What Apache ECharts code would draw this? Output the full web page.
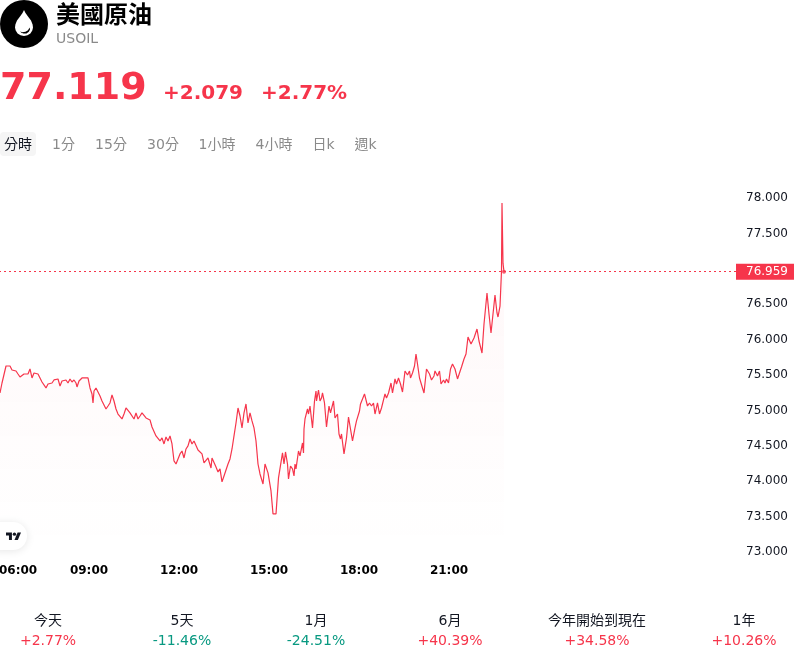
<!DOCTYPE html>
<html><head><meta charset="utf-8">
<style>html,body{margin:0;padding:0;background:#fff}#c{width:800px;height:660px}</style>
<script src="https://cdn.jsdelivr.net/npm/echarts@6/dist/echarts.min.js"></script>
</head><body><div id="c"></div>
<script>
const FONT = '"DejaVu Sans","Noto Sans CJK TC",sans-serif';
const RED = '#F6354B', GREEN = '#089981', INK = '#131722', GREY = '#8A8A8A';

const minutes = [2,6,10,14,18,22,26,30,34,38,42,46,50,54,58,62,66,70,74,78,82,86,90,94,98,102,106,110,114,118,122,126,130,134,138,142,146,150,154,156,160,166,172,178,182,186,188,190,194,198,202,206,210,214,218,222,226,230,234,238,242,246,250,254,258,262,266,270,274,278,282,286,290,294,298,302,306,310,314,318,322,326,330,334,338,342,346,350,354,358,362,366,370,374,378,382,386,390,394,398,402,406,410,414,418,422,424,426,430,434,438,442,446,450,454,458,462,466,470,474,478,482,486,490,494,498,502,506,510,514,518,522,528,532,538,544,548,554,559,562,567,570,573,577,579,583,587,590,592,594,599,602,607,609,610,612,617,619,622,627,631,634,635,639,642,645,647,651,655,660,663,669,672,677,680,683,685,690,695,699,703,707,712,715,721,723,727,731,737,741,745,749,752,757,761,765,769,772,775,779,782,784,787,792,795,799,803,807,812,817,821,823,827,831,834,837,841,845,850,855,861,865,870,872,877,881,884,889,892,895,899,903,907,912,917,921,925,930,934,938,944,950,956,960,966,970,976,980,984,992,996,998,1002,1004,1005,1006,1008,1010];
const prices = [75.246,75.387,75.373,75.627,75.613,75.627,75.571,75.599,75.557,75.514,75.472,75.472,75.514,75.528,75.514,75.585,75.458,75.528,75.543,75.514,75.458,75.401,75.387,75.317,75.373,75.373,75.387,75.430,75.430,75.444,75.345,75.415,75.387,75.430,75.387,75.444,75.401,75.430,75.387,75.331,75.415,75.458,75.458,75.458,75.317,75.232,75.105,75.274,75.317,75.317,75.204,75.133,75.105,75.020,75.062,75.105,75.218,75.133,75.020,74.949,74.921,74.879,74.949,75.034,75.006,74.964,74.964,74.879,74.964,74.879,74.921,74.964,74.978,74.893,74.879,74.865,74.766,74.738,74.639,74.625,74.568,74.611,74.526,74.625,74.568,74.639,74.526,74.286,74.243,74.243,74.385,74.427,74.328,74.455,74.498,74.596,74.526,74.568,74.554,74.441,74.427,74.385,74.258,74.286,74.328,74.342,74.187,74.328,74.342,74.201,74.131,74.173,73.990,74.074,74.102,74.243,74.314,74.455,74.639,74.822,75.034,74.921,74.752,74.964,75.091,74.822,74.964,74.851,74.752,74.568,74.243,74.102,73.961,74.243,74.117,73.862,73.538,73.538,74.046,74.032,74.399,74.243,74.413,74.243,74.032,74.215,74.173,74.074,74.243,74.173,74.427,74.357,74.540,74.399,74.738,74.879,75.020,74.949,75.062,74.752,75.133,75.274,75.133,75.288,75.133,75.175,75.246,75.105,74.766,75.062,74.964,75.133,74.893,74.949,74.667,74.596,74.667,74.385,74.611,74.907,74.879,74.568,74.752,74.851,74.992,75.091,75.091,75.232,75.062,75.105,75.062,75.105,74.949,75.105,74.949,75.034,75.020,75.232,75.175,75.246,75.232,75.387,75.246,75.444,75.373,75.458,75.373,75.260,75.557,75.500,75.557,75.458,75.528,75.627,75.797,75.655,75.458,75.430,75.246,75.585,75.514,75.430,75.486,75.557,75.486,75.557,75.373,75.430,75.387,75.444,75.387,75.585,75.655,75.585,75.444,75.430,75.613,75.726,75.797,76.037,75.938,76.023,76.150,75.980,75.811,76.220,76.658,76.361,76.093,76.630,76.376,76.319,76.474,76.474,76.969,77.930,77.080,76.959];
const timeTicks = ['06:00','09:00','12:00','15:00','18:00','21:00'];
const intervals = ['分時','1分','15分','30分','1小時','4小時','日k','週k'];
const intervalX = [18,63.5,111,163,217,274,323.5,365.5];
const periods = ['今天','5天','1月','6月','今年開始到現在','1年'];
const changes = ['+2.77%','-11.46%','-24.51%','+40.39%','+34.58%','+10.26%'];
const periodX = [48,182,316,450,597,744];
const lastPrice = prices[prices.length-1];
const lastMinute = minutes[minutes.length-1];

function txt(text,x,y,size,fill,weight,align){
  return {type:'text',x:x,y:y,silent:true,style:{text:text,fontSize:size,fill:fill,fontWeight:weight||'normal',fontFamily:FONT,align:align||'left',verticalAlign:'middle'}};
}
const dropPts = [[24,10],[25.5,13],[28,16.5],[31,20.5],[32.6,24.5],[33,27.5],[32.3,30.5],[30.4,33.4],[27.5,35.3],[24,36],[20.5,35.3],[17.6,33.4],[15.7,30.5],[15,27.5],[15.4,24.5],[17,20.5],[20,16.5],[22.5,13]];
const glintPts = [[20,31.4],[22.5,32.2],[25.5,31.8],[28,30.2],[29.6,27.5],[30,29.5],[28.8,31.8],[26.5,33.4],[23.5,33.6],[21.5,32.8]];
const tvS = 0.4225, tvX = 6, tvY = 530.8;
const tv = (pts)=>pts.map(p=>[tvX+p[0]*tvS,tvY+p[1]*tvS]);
const gfx = [
  {type:'circle',shape:{cx:24,cy:24,r:24},style:{fill:'#000'}},
  {type:'polygon',shape:{points:dropPts},style:{fill:'#fff'}},
  {type:'polygon',shape:{points:glintPts},style:{fill:'#000'}},
  txt('美國原油',56,17,24,'#000','bold'),
  txt('USOIL',56,39,14,GREY),
  txt('77.119',0,89,38,RED,'bold'),
  txt('+2.079',163,94,20,RED,'bold'),
  txt('+2.77%',261,94,20,RED,'bold'),
  {type:'rect',shape:{x:0,y:132,width:36,height:24,r:4},style:{fill:'#F5F5F5'}},
  {type:'rect',z:5,shape:{x:-14,y:522,width:41,height:28,r:14},style:{fill:'#fff',shadowColor:'rgba(0,0,0,0.10)',shadowBlur:8,shadowOffsetY:1}},
  {type:'polygon',z:6,shape:{points:tv([[0,4],[14,4],[14,22],[7,22],[7,11],[0,11]])},style:{fill:INK}},
  {type:'polygon',z:6,shape:{points:tv([[20,22],[27.5,4],[35.5,4],[28,22]])},style:{fill:INK}},
  {type:'circle',z:6,shape:{cx:tvX+20*tvS,cy:tvY+8*tvS,r:4*tvS},style:{fill:INK}}
];
intervals.forEach((t,i)=>gfx.push(txt(t,intervalX[i],145,14,i===0?INK:GREY,'normal','center')));
periods.forEach((t,i)=>{
  gfx.push(txt(t,periodX[i],621,14,INK,'normal','center'));
  gfx.push(txt(changes[i],periodX[i],641,14,changes[i][0]==='-'?GREEN:RED,'normal','center'));
});

const chart = echarts.init(document.getElementById('c'),null,{renderer:'canvas',width:800,height:660});
chart.setOption({
  animation:false,
  textStyle:{fontFamily:FONT},
  graphic:gfx,
  grid:{left:-1,right:64,top:198,bottom:108,outerBoundsMode:'none'},
  xAxis:{type:'value',min:0,max:1474,interval:180,
    axisLine:{show:false},axisTick:{show:false},splitLine:{show:false},
    axisLabel:{color:'#000',fontWeight:'bold',fontSize:12,fontFamily:FONT,margin:13,alignMinLabel:'left',showMaxLabel:false,hideOverlap:false,
      formatter:v=>timeTicks[v/180]||''}},
  yAxis:{type:'value',position:'right',min:73,max:78,interval:0.5,
    axisLine:{show:false},axisTick:{show:false},splitLine:{show:false},
    axisLabel:{color:INK,fontSize:12,fontFamily:FONT,align:'right',margin:52,
      formatter:v=>(v===77?'':v.toFixed(3))}},
  series:[
    {type:'line',data:minutes.map((m,i)=>[m,prices[i]]),showSymbol:false,
      lineStyle:{color:RED,width:1.2},
      areaStyle:{color:new echarts.graphic.LinearGradient(0,0,0,1,[{offset:0,color:'rgba(246,53,75,0.06)'},{offset:1,color:'rgba(246,53,75,0)'}])},
      markLine:{silent:true,symbol:'none',animation:false,
        data:[{yAxis:lastPrice}],
        lineStyle:{color:RED,type:[2,3],width:1},
        label:{show:true,position:'end',distance:0,formatter:()=>lastPrice.toFixed(3),color:'#fff',backgroundColor:RED,
          fontSize:12,fontFamily:FONT,padding:[2,6,2,10],align:'left'}}},
    {type:'scatter',data:[[lastMinute,lastPrice]],symbolSize:4,itemStyle:{color:RED},z:5}
  ]
});
</script></body></html>
